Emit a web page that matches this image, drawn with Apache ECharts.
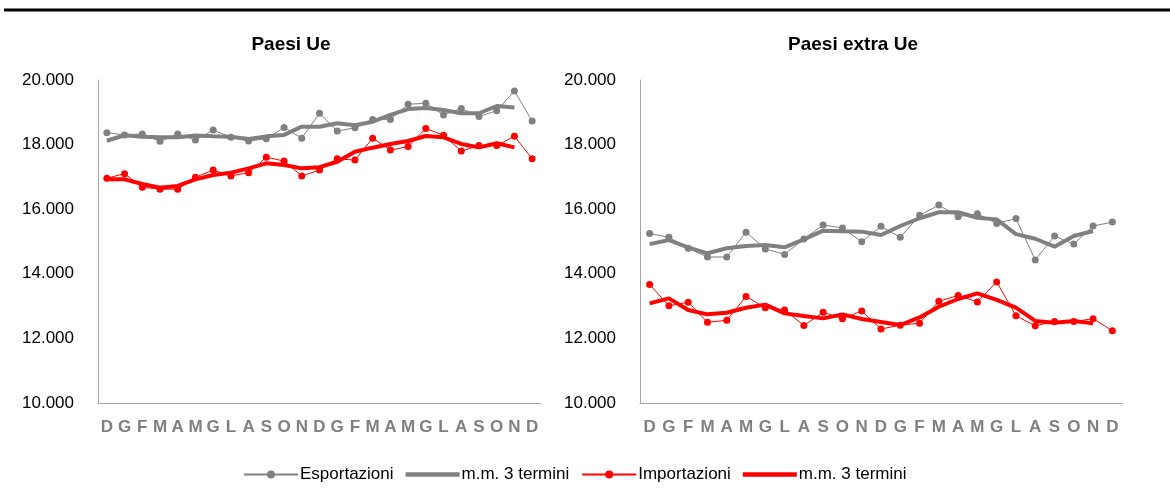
<!DOCTYPE html>
<html>
<head>
<meta charset="utf-8">
<script src="https://cdn.jsdelivr.net/npm/echarts@6/dist/echarts.min.js"></script>
<style>
    html, body { margin: 0; padding: 0; background: #fff; }
    #chart { width: 1170px; height: 499px; }
</style>
</head>
<body>
<div id="chart"></div>
<script>
// mesi: dicembre .. dicembre
const months = ['D', 'G', 'F', 'M', 'A', 'M', 'G', 'L', 'A', 'S', 'O', 'N', 'D', 'G', 'F', 'M', 'A', 'M', 'G', 'L', 'A', 'S', 'O', 'N', 'D'];
const yTicks = [10000, 12000, 14000, 16000, 18000, 20000];

// Paesi Ue
const ueExport = [18370, 18300, 18330, 18100, 18330, 18140, 18450, 18230, 18110, 18180, 18530, 18200, 18970, 18420, 18520, 18780, 18780, 19250, 19280, 18920, 19120, 18870, 19050, 19660, 18730];
const ueExportMM = [18120, 18290, 18245, 18225, 18225, 18285, 18255, 18245, 18175, 18255, 18300, 18555, 18555, 18660, 18600, 18710, 18920, 19100, 19130, 19070, 18970, 18970, 19195, 19145, null];
const ueImport = [16960, 17100, 16680, 16620, 16620, 16990, 17210, 17030, 17130, 17610, 17490, 17030, 17210, 17560, 17520, 18200, 17830, 17940, 18500, 18290, 17800, 17970, 17970, 18260, 17560];
const ueImportMM = [16925, 16925, 16780, 16665, 16720, 16925, 17060, 17130, 17265, 17420, 17370, 17265, 17300, 17470, 17780, 17905, 18020, 18110, 18265, 18225, 18020, 17915, 18040, 17915, null];

// Paesi extra Ue
const extraExport = [15250, 15130, 14790, 14520, 14520, 15290, 14770, 14600, 15080, 15510, 15420, 14990, 15470, 15130, 15810, 16130, 15770, 15860, 15560, 15710, 14430, 15170, 14920, 15480, 15600];
const extraExportMM = [14920, 15045, 14820, 14635, 14790, 14860, 14890, 14820, 15065, 15335, 15315, 15305, 15200, 15480, 15720, 15905, 15905, 15735, 15685, 15230, 15085, 14840, 15170, 15325, null];
const extraImport = [13670, 13010, 13120, 12500, 12560, 13300, 12950, 12880, 12400, 12810, 12610, 12850, 12290, 12410, 12470, 13150, 13330, 13130, 13750, 12700, 12390, 12520, 12520, 12610, 12240];
const extraImportMM = [13085, 13240, 12880, 12745, 12795, 12950, 13045, 12775, 12695, 12620, 12745, 12600, 12510, 12415, 12650, 12980, 13220, 13395, 13190, 12950, 12540, 12485, 12540, 12465, null];

const legendLabels = {
    exp: 'Esportazioni',
    expMM: 'm.m. 3 termini',
    imp: 'Importazioni',
    impMM: 'm.m. 3 termini',
};

const font = '"Liberation Sans", Arial, sans-serif';
const grey = '#808080';
const red = '#ff0000';
// thick bar icon for the moving averages (empty corners keep the box 10 high)
const thickIcon = 'path://M0,0L0,0M0,10L0,10M0,2.8L54,2.8L54,7.2L0,7.2Z';

const chart = echarts.init(document.getElementById('chart'));

function xAxis(gridIndex) {
    return {
        type: 'category',
        gridIndex: gridIndex,
        data: months,
        boundaryGap: true,
        axisLine: {lineStyle: {color: '#a6a6a6', width: 1}},
        axisTick: {show: false},
        axisLabel: {interval: 0, color: grey, fontWeight: 'bold', fontSize: 17, fontFamily: font, margin: 16},
    };
}

function yAxis(gridIndex) {
    return {
        type: 'value',
        gridIndex: gridIndex,
        min: yTicks[0],
        max: yTicks[yTicks.length - 1],
        interval: 2000,
        axisLine: {show: true, lineStyle: {color: '#a6a6a6', width: 1}},
        axisTick: {show: false},
        splitLine: {show: false},
        axisLabel: {
            color: '#000',
            fontSize: 17,
            fontFamily: font,
            margin: 24,
            formatter: (v) => v.toLocaleString('de-DE'),
        },
    };
}

function pointSeries(name, data, color, idx) {
    return {
        name: name,
        type: 'line',
        xAxisIndex: idx,
        yAxisIndex: idx,
        data: data,
        symbol: 'circle',
        symbolSize: 7,
        showSymbol: true,
        itemStyle: {color: color},
        lineStyle: {color: color, width: 1},
        animation: false,
    };
}

function mmSeries(name, data, color, idx) {
    return {
        name: name,
        type: 'line',
        xAxisIndex: idx,
        yAxisIndex: idx,
        data: data,
        symbol: 'none',
        itemStyle: {color: color},
        lineStyle: {color: color, width: 4},
        animation: false,
    };
}

const option = {
    backgroundColor: '#fff',
    textStyle: {fontFamily: font},
    title: [
        {text: 'Paesi Ue', left: 286, top: 30, textAlign: 'center', textStyle: {fontSize: 19, fontWeight: 'bold', color: '#000', fontFamily: font}},
        {text: 'Paesi extra Ue', left: 848, top: 30, textAlign: 'center', textStyle: {fontSize: 19, fontWeight: 'bold', color: '#000', fontFamily: font}},
    ],
    graphic: [
        {type: 'line', shape: {x1: 4, y1: 10, x2: 1170, y2: 10}, style: {stroke: '#000', lineWidth: 3}},
    ],
    legend: {
        top: 461,
        left: 238,
        itemWidth: 54,
        itemHeight: 10,
        itemGap: 12,
        data: [
            {name: 'exp'},
            {name: 'expMM', icon: thickIcon, itemStyle: {color: grey}},
            {name: 'imp'},
            {name: 'impMM', icon: thickIcon, itemStyle: {color: red}},
        ],
        formatter: (name) => legendLabels[name],
        textStyle: {fontSize: 17, color: '#000', fontFamily: font, padding: [0, 0, 0, -3]},
    },
    grid: [
        {left: 98, top: 80, width: 443, height: 323},
        {left: 640, top: 80, width: 482, height: 323},
    ],
    xAxis: [xAxis(0), xAxis(1)],
    yAxis: [yAxis(0), yAxis(1)],
    series: [
        pointSeries('exp', ueExport, grey, 0),
        mmSeries('expMM', ueExportMM, grey, 0),
        pointSeries('imp', ueImport, red, 0),
        mmSeries('impMM', ueImportMM, red, 0),
        pointSeries('exp', extraExport, grey, 1),
        mmSeries('expMM', extraExportMM, grey, 1),
        pointSeries('imp', extraImport, red, 1),
        mmSeries('impMM', extraImportMM, red, 1),
    ],
};

chart.setOption(option);
</script>
</body>
</html>
